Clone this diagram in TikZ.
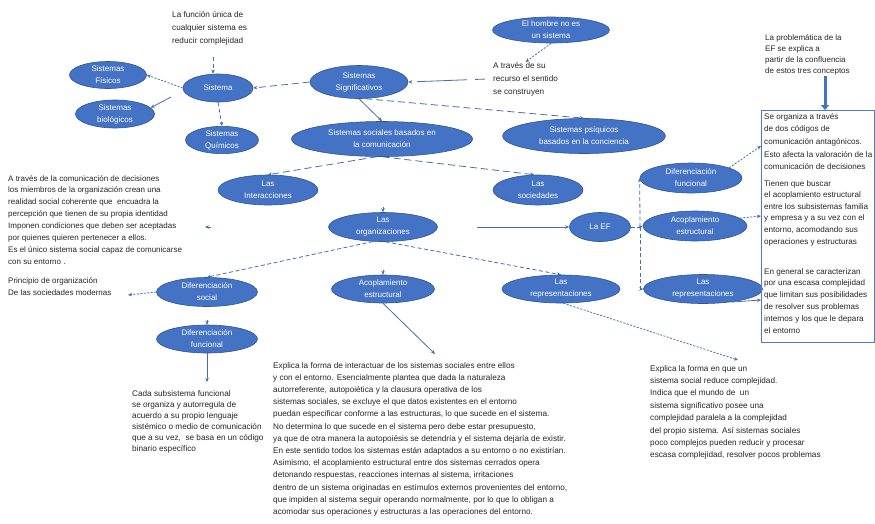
\documentclass[tikz,border=0pt]{standalone}
\usepackage{fontspec}
\setmainfont{Liberation Sans}
\usetikzlibrary{shapes.geometric,arrows.meta,calc}
\definecolor{efill}{HTML}{4472C4}
\definecolor{edraw}{HTML}{2F5597}
\definecolor{lcol}{HTML}{4A6FA5}
\definecolor{boxc}{HTML}{4F7BC0}
\begin{document}
\begin{tikzpicture}[x=1pt,y=-1pt,
  ell/.style={ellipse, fill=efill, draw=edraw, line width=0.6pt, text=white, inner sep=0pt, align=center, font=\fontsize{8}{12}\selectfont},
  txt/.style={anchor=north west, align=left, inner sep=0pt, text=black!85},
  con/.style={draw=lcol, line width=0.8pt, -{Stealth[length=4pt,width=3.5pt]}},
  ldash/.style={dash pattern=on 7pt off 4pt},
  mdash/.style={dash pattern=on 4pt off 2.5pt},
  fdash/.style={dash pattern=on 2pt off 1.5pt}]
\useasboundingbox[fill=white] (0,0) rectangle (875,523);

% ellipses
\node[ell, minimum width=77, minimum height=27] (sisfis) at (108,75) {Sistemas\\Físicos};
\node[ell, minimum width=79, minimum height=28] (sisbio) at (115,114) {Sistemas\\biológicos};
\node[ell, minimum width=70, minimum height=28] (sistema) at (218,88) {Sistema};
\node[ell, minimum width=73, minimum height=27] (sisqui) at (222,140) {Sistemas\\Químicos};
\node[ell, minimum width=98, minimum height=33] (signif) at (359,82) {Sistemas\\Significativos};
\node[ell, minimum width=117, minimum height=26] (hombre) at (551,30) {El hombre no es\\un sistema};
\node[ell, minimum width=181, minimum height=35] (sociales) at (382,139) {Sistemas sociales basados en\\la comunicación};
\node[ell, minimum width=163, minimum height=35] (psiq) at (584,136) {Sistemas psíquicos\\basados en la conciencia};
\node[ell, minimum width=100, minimum height=30] (inter) at (268,190) {Las\\Interacciones};
\node[ell, minimum width=90, minimum height=30] (socied) at (538,190) {Las\\sociedades};
\node[ell, minimum width=109, minimum height=29] (org) at (383,227) {Las\\organizaciones};
\node[ell, minimum width=61, minimum height=29] (ef) at (600,227) {La EF};
\node[ell, minimum width=101, minimum height=29] (dsoc) at (207,292) {Diferenciación\\social};
\node[ell, minimum width=103, minimum height=28] (acop) at (383,289) {Acoplamiento\\estructural};
\node[ell, minimum width=118, minimum height=28] (rep) at (561,289) {Las\\representaciones};
\node[ell, minimum width=102, minimum height=30] (dfunR) at (691,178) {Diferenciación\\funcional};
\node[ell, minimum width=104, minimum height=30] (acopR) at (695,226) {Acoplamiento\\estructural};
\node[ell, minimum width=119, minimum height=29] (repR) at (703,289) {Las\\representaciones};
\node[ell, minimum width=101, minimum height=28] (dfunL) at (207,339) {Diferenciación\\funcional};

% texts
\node[txt, font=\fontsize{8.2}{13}\selectfont] (T1) at (172,11) {La función única de\\cualquier sistema es\\reducir complejidad};
\node[txt, font=\fontsize{8.2}{13}\selectfont] (T2) at (493,62) {A través de su\\recurso el sentido\\se construyen};
\node[txt, font=\fontsize{8}{11}\selectfont] (T3) at (765,34) {La problemática de la\\EF se explica a\\partir de la confluencia\\de estos tres conceptos};
\node[draw=boxc, line width=0.8pt, anchor=north west, minimum width=113, minimum height=232, inner sep=0pt] (box) at (761,110) {};
\node[txt, font=\fontsize{8.1}{12.7}\selectfont] (T4a) at (764,113) {Se organiza a través\\de dos códigos de\\comunicación antagónicos.\\Esto afecta la valoración de la\\comunicación de decisiones};
\node[txt, font=\fontsize{8.1}{11.6}\selectfont] (T4b) at (764,180) {Tienen que buscar\\el acoplamiento estructural\\entre los subsistemas familia\\y empresa y a su vez con el\\entorno, acomodando sus\\operaciones y estructuras};
\node[txt, font=\fontsize{8.1}{11.8}\selectfont] (T4c) at (764,268) {En general se caracterizan\\por una escasa complejidad\\que limitan sus posibilidades\\de resolver sus problemas\\internos y los que le depara\\el entorno};
\node[txt, font=\fontsize{8}{11.9}\selectfont] (T5) at (8,175) {A través de la comunicación de decisiones\\los miembros de la organización crean una\\realidad social coherente que \ encuadra la\\percepción que tienen de su propia identidad\\Imponen condiciones que deben ser aceptadas\\por quienes quieren pertenecer a ellos.\\Es el único sistema social capaz de comunicarse\\con su entorno .};
\node[txt, font=\fontsize{8}{12}\selectfont] (T6) at (8,277) {Principio de organización\\De las sociedades modernas};
\node[txt, font=\fontsize{8.2}{11}\selectfont] (T7) at (132,390) {Cada subsistema funcional\\se organiza y autorregula de\\acuerdo a su propio lenguaje\\sistémico o medio de comunicación\\que a su vez, \ se basa en un código\\binario específico};
\node[txt, font=\fontsize{8.2}{12.2}\selectfont] (T8) at (273,362) {Explica la forma de interactuar de los sistemas sociales entre ellos\\y con el entorno. Esencialmente plantea que dada la naturaleza\\autorreferente, autopoiética y la clausura operativa de los\\sistemas sociales, se excluye el que datos existentes en el entorno\\puedan especificar conforme a las estructuras, lo que sucede en el sistema.\\No determina lo que sucede en el sistema pero debe estar presupuesto,\\ya que de otra manera la autopoiésis se detendría y el sistema dejaría de existir.\\En este sentido todos los sistemas están adaptados a su entorno o no existirían.\\Asimismo, el acoplamiento estructural entre dos sistemas cerrados opera\\detonando respuestas, reacciones internas al sistema, irritaciones\\dentro de un sistema originadas en estímulos externos provenientes del entorno,\\que impiden al sistema seguir operando normalmente, por lo que lo obligan a\\acomodar sus operaciones y estructuras a las operaciones del entorno.};
\node[txt, font=\fontsize{8.2}{12.4}\selectfont] (T9) at (650,365) {Explica la forma en que un\\sistema social reduce complejidad.\\Indica que el mundo de \ un\\sistema significativo posee una\\complejidad paralela a la complejidad\\del propio sistema. Así sistemas sociales\\poco complejos pueden reducir y procesar\\escasa complejidad, resolver pocos problemas};

% free ends
\coordinate (c1) at (213,57);
\coordinate (c3) at (171,97);
\coordinate (c12a) at (211,227);
\coordinate (c12b) at (205,227);
\coordinate (c13) at (477,227);
\coordinate (c17) at (128,295);
\coordinate (c19) at (207,382);
\coordinate (c20) at (435,354);
\coordinate (c21) at (738,360);
\coordinate (j) at (640,227);
\coordinate (c26a) at (825,76);

% connectors
\draw[con,mdash] (c1) -- (c1 |- sistema.north);
\draw[con,fdash] (sistema.west) -- (sisfis.east);
\draw[con] (c3) -- (sisbio.10);
\draw[con,mdash] (sistema.south) -- (sisqui.north);
\draw[con,ldash] (signif.west) -- (sistema.east);
\draw[con,dash pattern=on 10pt off 8pt on 40pt off 0pt] ([xshift=-8pt]T2.west) -- (signif.east);
\draw[con,fdash] (hombre.south) -- (T2.north);
\draw[con,ldash] (signif.-70) -- (psiq.north);
\draw[con] (signif.south) -- (sociales.north);
\draw[con,ldash] (sociales.-107) -- (inter.north);
\draw[con,ldash] (sociales.-88) -- (socied.104);
\draw[con] (c12a) -- (c12b);
\draw[con] (c13) -- (ef.west);
\draw[con] ([yshift=5pt]org.north) -- (org.north);
\draw[con] ([yshift=5pt]acop.north) -- (acop.north);
\draw[con,mdash] (org.-125) -- (dsoc.north);
\draw[con,mdash] (org.-80) -- (rep.north);
\draw[con,fdash] (dsoc.west) -- (c17);
\draw[con] ([yshift=5pt]dfunL.north) -- (dfunL.north);
\draw[con] (dfunL.south) -- (c19);
\draw[con] (acop.south) -- (c20);
\draw[con,fdash] (rep.-80) -- (c21);
\draw[draw=lcol, line width=0.8pt, mdash] (ef.east) -- (j);
\draw[con,mdash] (j) -- (dfunR.west);
\draw[con,mdash] (j) -- (acopR.west);
\draw[con,mdash] (j) |- (repR.west);
\draw[con,fdash] (dfunR.15) -- ([yshift=-36pt]box.north west);
\draw[con,fdash] (acopR.10) -- ([yshift=-106pt]box.north west);
\draw[con] (repR.-25) -- ([yshift=-190pt]box.north west);
\draw[draw=efill, line width=3pt, -{Triangle[length=5pt,width=8pt]}] (c26a) -- (c26a |- box.north);
\end{tikzpicture}
\end{document}
